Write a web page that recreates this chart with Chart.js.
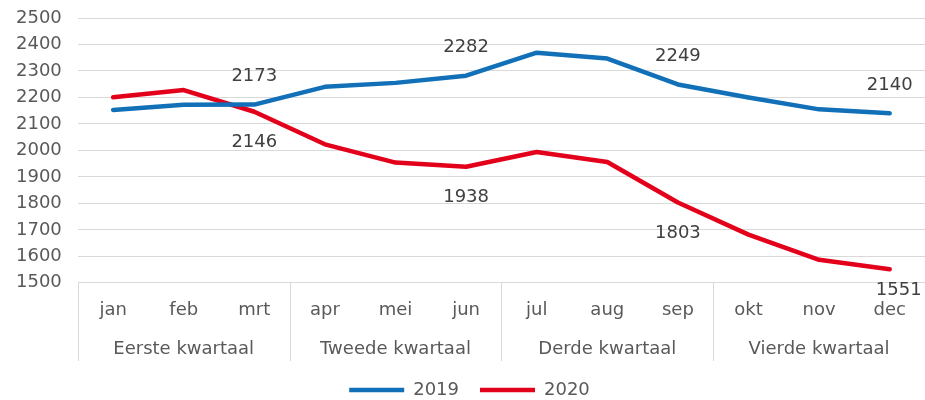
<!DOCTYPE html>
<html lang="nl">
<head>
<meta charset="utf-8">
<title>2019 - 2020 per maand</title>
<style>
html, body { margin: 0; padding: 0; background: #ffffff; overflow: hidden; }
.holder { width: 925px; height: 400px; position: relative; }
</style>
</head>
<body>
<div class="holder"><canvas id="canvas" width="925" height="400"></canvas></div>

<script src="https://cdn.jsdelivr.net/npm/chart.js"></script>
<script>
  // data
  const months = ['jan','feb','mrt','apr','mei','jun','jul','aug','sep','okt','nov','dec'];
  const quarters = ['Eerste kwartaal','Tweede kwartaal','Derde kwartaal','Vierde kwartaal'];
  const values2019 = [2153, 2172, 2173, 2240, 2255, 2282, 2369, 2347, 2249, 2200, 2155, 2140];
  const values2020 = [2201, 2228, 2146, 2023, 1954, 1938, 1994, 1956, 1803, 1682, 1587, 1551];
  const labelIndex = [2, 5, 8, 11];   // months that get a value label
  const yTicks = [1500, 2500, 100];  // min, max, step

  const font = 'DejaVu Sans';
  const textGrey = '#595959';
  const gridGrey = '#d9d9d9';

  // value labels + quarter dividers
  const extras = {
    id: 'extras',
    afterDatasetsDraw(chart) {
      const ctx = chart.ctx;
      ctx.save();
      ctx.font = '18px "' + font + '"';
      ctx.fillStyle = '#404040';
      ctx.textAlign = 'center';
      ctx.textBaseline = 'middle';
      chart.data.datasets.forEach((ds, di) => {
        const meta = chart.getDatasetMeta(di);
        labelIndex.forEach(i => {
          const pt = meta.data[i];
          let dx = 0;
          let dy = di == 0 ? -28 : 31;
          // last red label gets pushed into the corner, like excel does
          if (di == 1 && i == months.length - 1) { dx = 9; dy = 21; }
          ctx.fillText(ds.data[i], pt.x + dx, pt.y + dy);
        });
      });
      ctx.restore();
    },
    afterDraw(chart) {
      const ctx = chart.ctx;
      const x = chart.scales.x;
      const x2 = chart.scales.x2;
      const half = (x.getPixelForValue(1) - x.getPixelForValue(0)) / 2;
      ctx.save();
      ctx.strokeStyle = gridGrey;
      ctx.lineWidth = 1;
      for (let q = 0; q <= quarters.length; q++) {
        let px = q < quarters.length ? x.getPixelForValue(q * 3) - half : x.getPixelForValue(months.length - 1) + half;
        px = Math.round(px) + 0.5;
        ctx.beginPath();
        ctx.moveTo(px, chart.chartArea.bottom);
        ctx.lineTo(px, x2.bottom + 1);
        ctx.stroke();
      }
      ctx.restore();
    }
  };

  const ctx = document.getElementById('canvas').getContext('2d');
  const mychart = new Chart(ctx, {
    type: 'line',
    data: {
      labels: months,
      datasets: [{
        label: '2019',
        data: values2019,
        borderColor: '#1170b8',
        backgroundColor: '#1170b8',
        borderWidth: 4.5,
        borderCapStyle: 'round',
        borderJoinStyle: 'round',
        pointRadius: 0,
        tension: 0
      }, {
        label: '2020',
        data: values2020,
        borderColor: '#e3001b',
        backgroundColor: '#e3001b',
        borderWidth: 4.5,
        borderCapStyle: 'round',
        borderJoinStyle: 'round',
        pointRadius: 0,
        tension: 0
      }]
    },
    options: {
      responsive: false,
      animation: false,
      layout: { padding: { top: 18, left: 14, right: 0, bottom: -9 } },
      plugins: {
        tooltip: { enabled: false },
        legend: {
          position: 'bottom',
          labels: {
            usePointStyle: true,
            pointStyle: 'line',
            pointStyleWidth: 55,
            color: textGrey,
            font: { family: font, size: 18 },
            padding: 21
          }
        }
      },
      scales: {
        y: {
          min: yTicks[0],
          max: yTicks[1],
          ticks: { stepSize: yTicks[2], color: textGrey, font: { family: font, size: 18 }, padding: 2,
                   autoSkip: false, callback: v => String(v) },
          // invisible tick marks keep the labels away from the plot
          grid: { color: gridGrey, drawTicks: true, tickLength: 14, tickColor: 'rgba(0,0,0,0)' },
          border: { display: false }
        },
        x: {
          offset: true,
          ticks: { color: textGrey, font: { family: font, size: 18 }, padding: 17, maxRotation: 0, autoSkip: false },
          grid: { display: false, drawTicks: false },
          border: { display: false }
        },
        x2: {
          type: 'category',
          labels: quarters,
          position: 'bottom',
          offset: true,
          ticks: { color: textGrey, font: { family: font, size: 18 }, padding: 0, maxRotation: 0, autoSkip: false },
          grid: { display: false, drawTicks: false },
          border: { display: false }
        }
      }
    },
    plugins: [extras]
  });
</script>
</body>
</html>
